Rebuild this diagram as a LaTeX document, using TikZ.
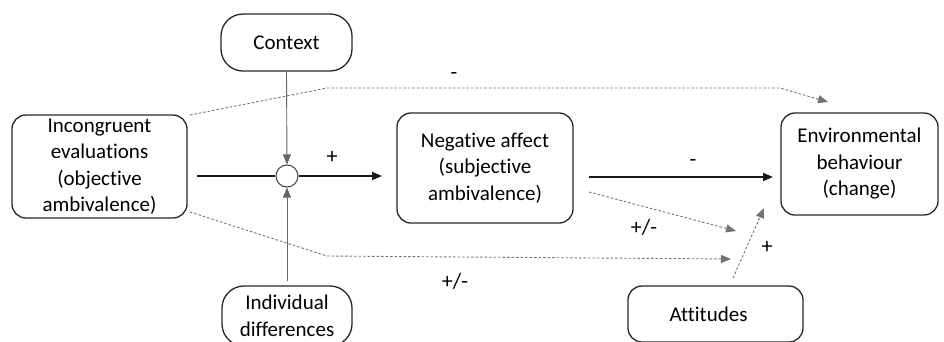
\documentclass[tikz,border=0pt]{standalone}
\usepackage{fontspec}
\setmainfont{Carlito}[Ligatures={NoCommon}]
\usetikzlibrary{arrows.meta}
\begin{document}
\begin{tikzpicture}[x=1pt,y=-1pt,
  box/.style={draw=black!85,line width=1.3pt,rounded corners=14pt,align=center,inner sep=0pt,font=\fontsize{21}{26.5}\selectfont},
  pill/.style={box,rounded corners=22pt},
  lbl/.style={font=\fontsize{22}{26.5}\selectfont,inner sep=0pt},
  tip/.style={-{Triangle[length=10pt,width=8pt]}},
  mainline/.style={line width=1.8pt,black!90},
  thin/.style={line width=0.9pt,black!60},
  dsh/.style={line width=0.9pt,black!55,dash pattern=on 2.5pt off 2pt}]
\useasboundingbox (0,0) rectangle (944,341);
\node[box,minimum width=175pt,minimum height=103pt] (inc) at (99.5,166.5) {Incongruent\\evaluations\\(objective\\ambivalence)};
\node[pill,minimum width=131pt,minimum height=57pt] (ctx) at (286.5,42.5) {Context};
\node[pill,minimum width=130pt,minimum height=60pt] (ind) at (287,316) {Individual\\differences};
\node[box,minimum width=176pt,minimum height=110pt] (neg) at (485,168) {Negative affect\\(subjective\\ambivalence)};
\node[box,minimum width=157pt,minimum height=102pt] (env) at (859.5,164) {Environmental\\behaviour\\(change)};
\node[box,minimum width=175pt,minimum height=56pt] (att) at (715.5,314) {\hspace*{-14pt}Attitudes};
\node[draw=black!70,line width=1.1pt,circle,minimum size=22pt,inner sep=0pt] (c) at (287,176) {};
% coordinates
\coordinate (m1) at (197,176);
\coordinate (m2) at (382,176);
\coordinate (n1) at (589,177);
\coordinate (e1) at (773,177);
\coordinate (t0) at (190,115);
\coordinate (t1) at (327,88);
\coordinate (t2) at (780,88);
\coordinate (t3) at (828,102);
\coordinate (b0) at (190,212);
\coordinate (b1) at (327,256);
\coordinate (b2) at (731,259);
\coordinate (n2) at (589,192);
\coordinate (n3) at (736,231);
\coordinate (a0) at (733,278);
\coordinate (a1) at (764,208);
% connectors
\draw[mainline] (m1) -- (c.west);
\draw[mainline,tip] (c.east) -- (m2);
\draw[thin,tip] (ctx.south) -- (c.north);
\draw[thin,tip,shorten <=4pt] (ind.north) -- (c.south);
\draw[mainline,tip] (n1) -- (e1);
\draw[dsh,tip] (t0) -- (t1) -- (t2) -- (t3);
\draw[dsh,tip] (b0) -- (b1) -- (b2);
\draw[dsh,tip] (n2) -- (n3);
\draw[dsh,tip] (a0) -- (a1);
% labels
\node[lbl] (l1) at (332,157) {+};
\node[lbl] (l2) at (454,76) {-};
\node[lbl] (l3) at (693,163) {-};
\node[lbl] (l4) at (644,227) {+/-};
\node[lbl] (l5) at (455,281) {+/-};
\node[lbl] (l6) at (767,247) {+};
\end{tikzpicture}
\end{document}
